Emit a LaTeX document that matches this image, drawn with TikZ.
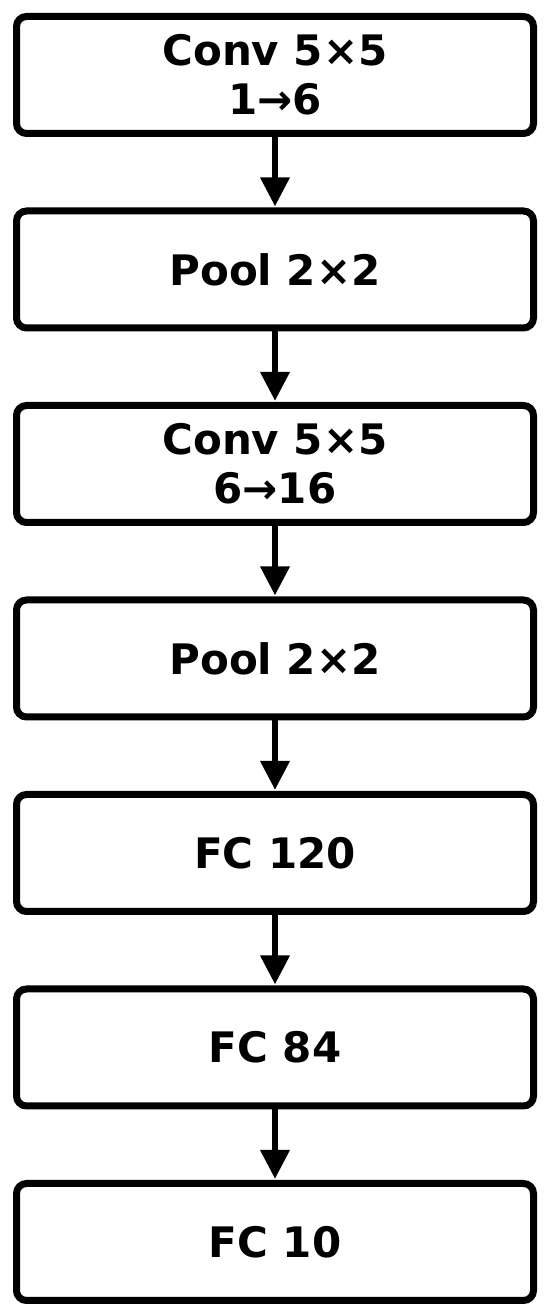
\documentclass[tikz,border=0pt]{standalone}
\usepackage{fontspec}
\setmainfont{DejaVu Sans}
\usetikzlibrary{arrows.meta}
\begin{document}
\begin{tikzpicture}[x=1pt,y=1pt,
  layer/.style={draw=black, line width=7pt, rounded corners=10pt,
    minimum width=517pt, minimum height=117pt, inner sep=0pt,
    align=center, fill=white,
    font=\fontsize{42}{49}\selectfont\bfseries},
  conn/.style={line width=6.5pt, -{Triangle[width=28pt,length=29pt]}, shorten >=1pt}]
\useasboundingbox (0,0) rectangle (550,1316);
\node[layer] (c1) at (275,1241) {Conv 5×5\\1→6};
\node[layer] (p1) at (275,1046.5) {Pool 2×2};
\node[layer] (c2) at (275,852) {Conv 5×5\\6→16};
\node[layer] (p2) at (275,657.5) {Pool 2×2};
\node[layer] (f1) at (275,463) {FC 120};
\node[layer] (f2) at (275,268.5) {FC 84};
\node[layer] (f3) at (275,74) {FC 10};
\draw[conn] (c1) -- (p1);
\draw[conn] (p1) -- (c2);
\draw[conn] (c2) -- (p2);
\draw[conn] (p2) -- (f1);
\draw[conn] (f1) -- (f2);
\draw[conn] (f2) -- (f3);
\end{tikzpicture}
\end{document}
